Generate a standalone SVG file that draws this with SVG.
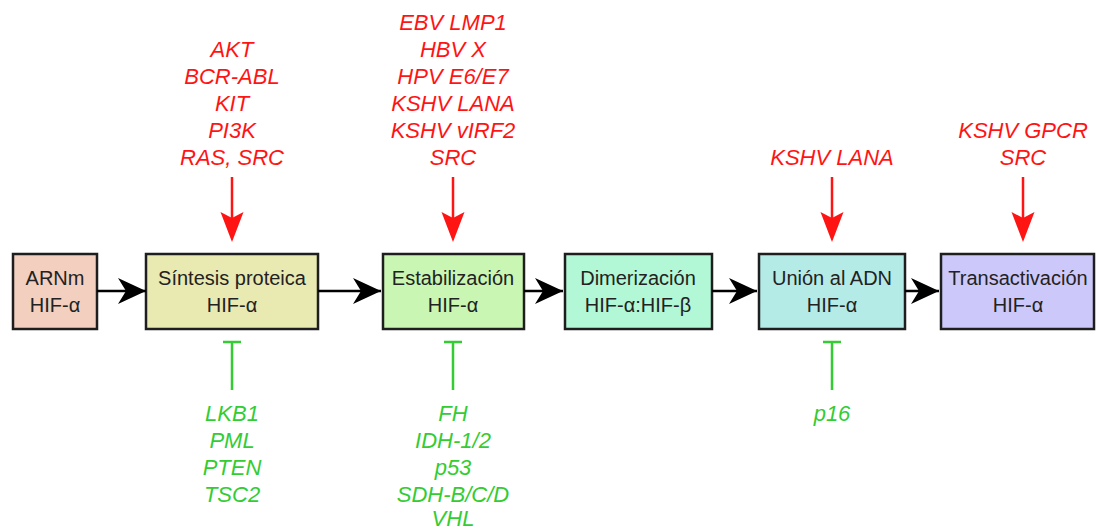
<svg xmlns="http://www.w3.org/2000/svg" width="1097" height="531" viewBox="0 0 1097 531">
<style>
.box{stroke:#1e1e1e;stroke-width:2.5}
.bt{font-family:"Liberation Sans",Arial,sans-serif;font-size:20px;fill:#222;text-anchor:middle}
.rt{font-family:"Liberation Sans",Arial,sans-serif;font-size:22px;font-style:italic;fill:#ff1414;text-anchor:middle}
.gt{font-family:"Liberation Sans",Arial,sans-serif;font-size:22px;font-style:italic;fill:#33cc33;text-anchor:middle}
.conn{stroke:#000;stroke-width:2.5;fill:none}
.red{stroke:#ff1414;stroke-width:2.5;fill:none}
.redh{fill:#ff1414}
.grn{stroke:#33cc33;stroke-width:2.5;fill:none}
</style>
<defs>
<marker id="ah" markerUnits="userSpaceOnUse" markerWidth="30" markerHeight="28" refX="28" refY="13" orient="auto" viewBox="0 0 30 28">
<path d="M28,13 L0,0 L8,13 L0,26 Z" fill="#000"/>
</marker>
<path id="rh" d="M0,0 L-11.5,-30 L0,-24 L11.5,-30 Z"/>
</defs>
<rect width="1097" height="531" fill="#fff"/>
<g id="n1"><rect class="box" x="13" y="254" width="84" height="75" fill="#f2cfbf"/><text class="bt" x="55" y="285">ARNm</text><text class="bt" x="55" y="312">HIF-α</text></g>
<g id="n2"><rect class="box" x="146" y="254" width="172" height="75" fill="#e9e9b2"/><text class="bt" x="232" y="285">Síntesis proteica</text><text class="bt" x="232" y="312">HIF-α</text></g>
<g id="n3"><rect class="box" x="383" y="254" width="141" height="75" fill="#c9f7b3"/><text class="bt" x="453" y="285">Estabilización</text><text class="bt" x="453" y="312">HIF-α</text></g>
<g id="n4"><rect class="box" x="565" y="254" width="147" height="75" fill="#b2f7d6"/><text class="bt" x="638" y="285">Dimerización</text><text class="bt" x="638" y="312">HIF-α:HIF-β</text></g>
<g id="n5"><rect class="box" x="759" y="254" width="146" height="75" fill="#b5ebe7"/><text class="bt" x="832" y="285">Unión al ADN</text><text class="bt" x="832" y="312">HIF-α</text></g>
<g id="n6"><rect class="box" x="941" y="254" width="153" height="75" fill="#cdc8fa"/><text class="bt" x="1018" y="285">Transactivación</text><text class="bt" x="1018" y="312">HIF-α</text></g>
<g id="connectors">
<line class="conn" x1="97" y1="291" x2="146" y2="291" marker-end="url(#ah)"/>
<line class="conn" x1="318" y1="291" x2="381" y2="291" marker-end="url(#ah)"/>
<line class="conn" x1="524" y1="291" x2="563" y2="291" marker-end="url(#ah)"/>
<line class="conn" x1="712" y1="291" x2="757" y2="291" marker-end="url(#ah)"/>
<line class="conn" x1="905" y1="291" x2="939" y2="291" marker-end="url(#ah)"/>
<line class="red" x1="232" y1="177" x2="232" y2="220"/><use href="#rh" class="redh" x="232" y="242"/>
<line class="red" x1="453" y1="177" x2="453" y2="220"/><use href="#rh" class="redh" x="453" y="242"/>
<line class="red" x1="832" y1="177" x2="832" y2="220"/><use href="#rh" class="redh" x="832" y="242"/>
<line class="red" x1="1023" y1="177" x2="1023" y2="220"/><use href="#rh" class="redh" x="1023" y="242"/>
<path class="grn" d="M223,342 H241 M232,342 V390"/>
<path class="grn" d="M444,342 H462 M453,342 V390"/>
<path class="grn" d="M823,342 H841 M832,342 V390"/>
</g>
<g id="activators">
<text class="rt" x="232" y="57">AKT</text>
<text class="rt" x="232" y="84">BCR-ABL</text>
<text class="rt" x="232" y="111">KIT</text>
<text class="rt" x="232" y="138">PI3K</text>
<text class="rt" x="232" y="165">RAS, SRC</text>
<text class="rt" x="453" y="30">EBV LMP1</text>
<text class="rt" x="453" y="57">HBV X</text>
<text class="rt" x="453" y="84">HPV E6/E7</text>
<text class="rt" x="453" y="111">KSHV LANA</text>
<text class="rt" x="453" y="138">KSHV vIRF2</text>
<text class="rt" x="453" y="165">SRC</text>
<text class="rt" x="832" y="165">KSHV LANA</text>
<text class="rt" x="1023" y="138">KSHV GPCR</text>
<text class="rt" x="1023" y="165">SRC</text>
</g>
<g id="inhibitors">
<text class="gt" x="232" y="421">LKB1</text>
<text class="gt" x="232" y="448">PML</text>
<text class="gt" x="232" y="475">PTEN</text>
<text class="gt" x="232" y="502">TSC2</text>
<text class="gt" x="453" y="421">FH</text>
<text class="gt" x="453" y="448">IDH-1/2</text>
<text class="gt" x="453" y="475">p53</text>
<text class="gt" x="453" y="502">SDH-B/C/D</text>
<text class="gt" x="453" y="526">VHL</text>
<text class="gt" x="832" y="421">p16</text>
</g>
</svg>
